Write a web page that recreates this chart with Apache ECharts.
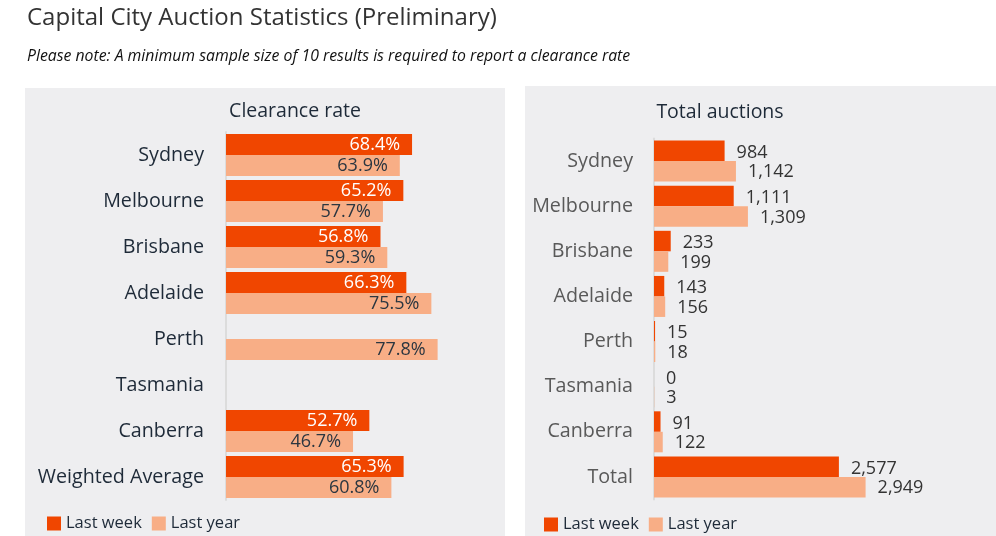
<!DOCTYPE html>
<html><head><meta charset="utf-8">
<script src="https://cdn.jsdelivr.net/npm/echarts@6/dist/echarts.min.js"></script>
<style>html,body{margin:0;padding:0;background:#fff;}#c{width:996px;height:536px;}</style>
</head><body><div id="c"></div>
<script>
const categoriesRate = ['Sydney','Melbourne','Brisbane','Adelaide','Perth','Tasmania','Canberra','Weighted Average'];
const categoriesAuctions = ['Sydney','Melbourne','Brisbane','Adelaide','Perth','Tasmania','Canberra','Total'];
const lastWeekRate = [68.4, 65.2, 56.8, 66.3, null, null, 52.7, 65.3];
const lastYearRate = [63.9, 57.7, 59.3, 75.5, 77.8, null, 46.7, 60.8];
const lastWeekAuctions = [984, 1111, 233, 143, 15, 0, 91, 2577];
const lastYearAuctions = [1142, 1309, 199, 156, 18, 3, 122, 2949];
const seriesNames = ['Last week', 'Last year'];

const FONT = 'Open Sans';
const C_WEEK = '#f04600';
const C_YEAR = '#f8ae86';
const fmtRate = p => p.value == null ? '' : Number(p.value).toFixed(1) + '%';
const fmtNum = p => String(p.value).replace(/\B(?=(\d{3})+(?!\d))/g, ',');

const chart = echarts.init(document.getElementById('c'), null, {renderer: 'canvas'});
chart.setOption({
  backgroundColor: '#ffffff',
  animation: false,
  textStyle: {fontFamily: FONT},
  graphic: [
    {type: 'rect', shape: {x: 25, y: 88, width: 480, height: 448}, style: {fill: '#eeeef0'}, z: -10},
    {type: 'rect', shape: {x: 525, y: 86, width: 471, height: 450}, style: {fill: '#eeeef0'}, z: -10},
    {type: 'text', left: 27, top: 6, style: {text: 'Capital City Auction Statistics (Preliminary)', font: '24px "Open Sans"', fill: '#333333'}},
    {type: 'text', left: 27, top: 48, style: {text: 'Please note: A minimum sample size of 10 results is required to report a clearance rate', font: 'italic 15.8px "Open Sans"', fill: '#111111'}}
  ],
  title: [
    {text: 'Clearance rate', left: 290, top: 96, textAlign: 'center', textStyle: {fontFamily: FONT, fontSize: 19.5, fontWeight: 'normal', color: '#1e2a38'}},
    {text: 'Total auctions', left: 715, top: 97, textAlign: 'center', textStyle: {fontFamily: FONT, fontSize: 19.5, fontWeight: 'normal', color: '#1e2a38'}}
  ],
  legend: [
    {data: seriesNames, left: 42, top: 510, itemWidth: 14, itemHeight: 14, itemGap: 10, icon: 'rect',
     textStyle: {fontFamily: FONT, fontSize: 16.5, color: '#1e2a38'}},
    {data: seriesNames, left: 539, top: 511, itemWidth: 14, itemHeight: 14, itemGap: 10, icon: 'rect',
     textStyle: {fontFamily: FONT, fontSize: 16.5, color: '#1e2a38'}}
  ],
  grid: [
    {left: 226, top: 132, width: 272, height: 368},
    {left: 654, top: 138.5, width: 287, height: 361}
  ],
  xAxis: [
    {gridIndex: 0, type: 'value', min: 0, max: 100, show: false},
    {gridIndex: 1, type: 'value', min: 0, max: 4000, show: false}
  ],
  yAxis: [
    {gridIndex: 0, type: 'category', data: categoriesRate, inverse: true,
     axisLine: {show: true, lineStyle: {color: '#dcdcdc', width: 2}}, axisTick: {show: false},
     axisLabel: {margin: 22, fontFamily: FONT, fontSize: 19.7, color: '#1e2a38'}},
    {gridIndex: 1, type: 'category', data: categoriesAuctions, inverse: true,
     axisLine: {show: true, lineStyle: {color: '#dcdcdc', width: 2}}, axisTick: {show: false},
     axisLabel: {margin: 21, fontFamily: FONT, fontSize: 19.7, color: '#595959'}}
  ],
  series: [
    {name: seriesNames[0], type: 'bar', xAxisIndex: 0, yAxisIndex: 0, data: lastWeekRate, barWidth: 21, barGap: '0%',
     itemStyle: {color: C_WEEK},
     label: {show: true, position: 'insideRight', distance: 12, formatter: fmtRate, fontFamily: FONT, fontSize: 18, color: '#ffffff'}},
    {name: seriesNames[1], type: 'bar', xAxisIndex: 0, yAxisIndex: 0, data: lastYearRate, barWidth: 21, barGap: '0%',
     itemStyle: {color: C_YEAR},
     label: {show: true, position: 'insideRight', distance: 12, formatter: fmtRate, fontFamily: FONT, fontSize: 18, color: '#2b3640'}},
    {name: seriesNames[0], type: 'bar', xAxisIndex: 1, yAxisIndex: 1, data: lastWeekAuctions, barWidth: 20.5, barGap: '0%',
     itemStyle: {color: C_WEEK},
     label: {show: true, position: 'right', distance: 12, formatter: fmtNum, fontFamily: FONT, fontSize: 18, color: '#333333', offset: [0, 2]}},
    {name: seriesNames[1], type: 'bar', xAxisIndex: 1, yAxisIndex: 1, data: lastYearAuctions, barWidth: 20.5, barGap: '0%',
     itemStyle: {color: C_YEAR},
     label: {show: true, position: 'right', distance: 12, formatter: fmtNum, fontFamily: FONT, fontSize: 18, color: '#333333', offset: [0, 1]}}
  ]
});
</script></body></html>
